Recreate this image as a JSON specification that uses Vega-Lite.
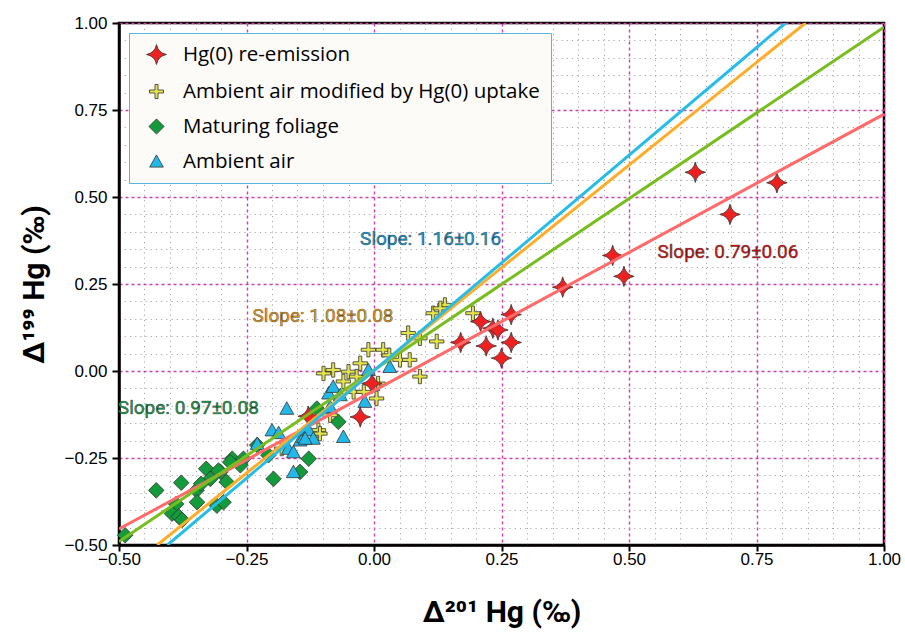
{
  "$schema": "https://vega.github.io/schema/vega-lite/v6.json",
  "width": 765,
  "height": 522,
  "autosize": {"type": "none"},
  "padding": {"left": 119, "top": 23, "right": 21, "bottom": 92},
  "background": "white",
  "config": {
    "view": {"stroke": "black", "strokeWidth": 2.5}
  },
  "datasets": {
    "pts": [
      {"series": "Maturing foliage", "x": -0.488, "y": -0.472},
      {"series": "Maturing foliage", "x": -0.427, "y": -0.343},
      {"series": "Maturing foliage", "x": -0.378, "y": -0.321},
      {"series": "Maturing foliage", "x": -0.388, "y": -0.382},
      {"series": "Maturing foliage", "x": -0.396, "y": -0.41},
      {"series": "Maturing foliage", "x": -0.383, "y": -0.418},
      {"series": "Maturing foliage", "x": -0.376, "y": -0.428},
      {"series": "Maturing foliage", "x": -0.329, "y": -0.281},
      {"series": "Maturing foliage", "x": -0.348, "y": -0.343},
      {"series": "Maturing foliage", "x": -0.347, "y": -0.377},
      {"series": "Maturing foliage", "x": -0.321, "y": -0.31},
      {"series": "Maturing foliage", "x": -0.301, "y": -0.29},
      {"series": "Maturing foliage", "x": -0.289, "y": -0.319},
      {"series": "Maturing foliage", "x": -0.308, "y": -0.387},
      {"series": "Maturing foliage", "x": -0.295, "y": -0.377},
      {"series": "Maturing foliage", "x": -0.278, "y": -0.252},
      {"series": "Maturing foliage", "x": -0.256, "y": -0.252},
      {"series": "Maturing foliage", "x": -0.339, "y": -0.324},
      {"series": "Maturing foliage", "x": -0.262, "y": -0.271},
      {"series": "Maturing foliage", "x": -0.197, "y": -0.31},
      {"series": "Maturing foliage", "x": -0.145, "y": -0.29},
      {"series": "Maturing foliage", "x": -0.128, "y": -0.252},
      {"series": "Maturing foliage", "x": -0.229, "y": -0.213},
      {"series": "Maturing foliage", "x": -0.207, "y": -0.242},
      {"series": "Maturing foliage", "x": -0.112, "y": -0.108},
      {"series": "Maturing foliage", "x": -0.07, "y": -0.146},
      {"series": "Maturing foliage", "x": -0.282, "y": -0.262},
      {"series": "Maturing foliage", "x": -0.305, "y": -0.286},
      {"series": "Ambient air modified by Hg(0) uptake", "x": 0.139, "y": 0.19},
      {"series": "Ambient air modified by Hg(0) uptake", "x": 0.116, "y": 0.166},
      {"series": "Ambient air modified by Hg(0) uptake", "x": 0.194, "y": 0.166},
      {"series": "Ambient air modified by Hg(0) uptake", "x": 0.067, "y": 0.109},
      {"series": "Ambient air modified by Hg(0) uptake", "x": 0.09, "y": 0.094},
      {"series": "Ambient air modified by Hg(0) uptake", "x": 0.123, "y": 0.085},
      {"series": "Ambient air modified by Hg(0) uptake", "x": -0.011, "y": 0.061},
      {"series": "Ambient air modified by Hg(0) uptake", "x": 0.018, "y": 0.061},
      {"series": "Ambient air modified by Hg(0) uptake", "x": 0.051, "y": 0.032},
      {"series": "Ambient air modified by Hg(0) uptake", "x": 0.07, "y": 0.032},
      {"series": "Ambient air modified by Hg(0) uptake", "x": 0.09, "y": -0.016},
      {"series": "Ambient air modified by Hg(0) uptake", "x": -0.027, "y": 0.022},
      {"series": "Ambient air modified by Hg(0) uptake", "x": -0.08, "y": 0.003},
      {"series": "Ambient air modified by Hg(0) uptake", "x": -0.099, "y": -0.007},
      {"series": "Ambient air modified by Hg(0) uptake", "x": -0.05, "y": -0.002},
      {"series": "Ambient air modified by Hg(0) uptake", "x": -0.034, "y": -0.016},
      {"series": "Ambient air modified by Hg(0) uptake", "x": -0.04, "y": -0.06},
      {"series": "Ambient air modified by Hg(0) uptake", "x": 0.008, "y": -0.036},
      {"series": "Ambient air modified by Hg(0) uptake", "x": 0.005, "y": -0.079},
      {"series": "Ambient air modified by Hg(0) uptake", "x": -0.086, "y": -0.127},
      {"series": "Ambient air modified by Hg(0) uptake", "x": -0.109, "y": -0.17},
      {"series": "Ambient air modified by Hg(0) uptake", "x": -0.106, "y": -0.18},
      {"series": "Ambient air modified by Hg(0) uptake", "x": -0.181, "y": -0.223},
      {"series": "Ambient air modified by Hg(0) uptake", "x": 0.13, "y": 0.18},
      {"series": "Ambient air modified by Hg(0) uptake", "x": -0.06, "y": -0.03},
      {"series": "Ambient air modified by Hg(0) uptake", "x": 0.03, "y": 0.045},
      {"series": "Ambient air modified by Hg(0) uptake", "x": -0.02, "y": -0.06},
      {"series": "Ambient air", "x": -0.171, "y": -0.108},
      {"series": "Ambient air", "x": -0.2, "y": -0.17},
      {"series": "Ambient air", "x": -0.187, "y": -0.178},
      {"series": "Ambient air", "x": -0.229, "y": -0.209},
      {"series": "Ambient air", "x": -0.168, "y": -0.223},
      {"series": "Ambient air", "x": -0.158, "y": -0.233},
      {"series": "Ambient air", "x": -0.158, "y": -0.29},
      {"series": "Ambient air", "x": -0.145, "y": -0.199},
      {"series": "Ambient air", "x": -0.138, "y": -0.189},
      {"series": "Ambient air", "x": -0.128, "y": -0.17},
      {"series": "Ambient air", "x": -0.119, "y": -0.194},
      {"series": "Ambient air", "x": -0.089, "y": -0.064},
      {"series": "Ambient air", "x": -0.08, "y": -0.045},
      {"series": "Ambient air", "x": -0.086, "y": -0.103},
      {"series": "Ambient air", "x": -0.066, "y": -0.069},
      {"series": "Ambient air", "x": -0.06, "y": -0.189},
      {"series": "Ambient air", "x": -0.018, "y": -0.088},
      {"series": "Ambient air", "x": -0.011, "y": 0.003},
      {"series": "Ambient air", "x": 0.031, "y": 0.012},
      {"series": "Ambient air", "x": -0.135, "y": -0.194},
      {"series": "Hg(0) re-emission", "x": 0.63, "y": 0.571},
      {"series": "Hg(0) re-emission", "x": 0.79, "y": 0.541},
      {"series": "Hg(0) re-emission", "x": 0.698, "y": 0.45},
      {"series": "Hg(0) re-emission", "x": 0.468, "y": 0.332},
      {"series": "Hg(0) re-emission", "x": 0.49, "y": 0.272},
      {"series": "Hg(0) re-emission", "x": 0.37, "y": 0.241},
      {"series": "Hg(0) re-emission", "x": 0.269, "y": 0.162},
      {"series": "Hg(0) re-emission", "x": 0.209, "y": 0.142},
      {"series": "Hg(0) re-emission", "x": 0.233, "y": 0.123},
      {"series": "Hg(0) re-emission", "x": 0.243, "y": 0.118},
      {"series": "Hg(0) re-emission", "x": 0.17, "y": 0.082},
      {"series": "Hg(0) re-emission", "x": 0.22, "y": 0.072},
      {"series": "Hg(0) re-emission", "x": 0.269, "y": 0.082},
      {"series": "Hg(0) re-emission", "x": 0.25, "y": 0.037},
      {"series": "Hg(0) re-emission", "x": -0.027, "y": -0.132},
      {"series": "Hg(0) re-emission", "x": -0.004, "y": -0.036},
      {"series": "Hg(0) re-emission", "x": -0.129, "y": -0.13}
    ],
    "fits": [
      {"fit": "red", "x": -0.5, "y": -0.454},
      {"fit": "red", "x": 1.0, "y": 0.738},
      {"fit": "green", "x": -0.5, "y": -0.49},
      {"fit": "green", "x": 1.0, "y": 0.988},
      {"fit": "orange", "x": -0.425, "y": -0.5},
      {"fit": "orange", "x": 0.846, "y": 1.0},
      {"fit": "cyan", "x": -0.405, "y": -0.5},
      {"fit": "cyan", "x": 0.807, "y": 1.0}
    ],
    "labels": [
      {"fit": "cyan", "x": 0.111, "y": 0.378, "text": "Slope: 1.16±0.16"},
      {"fit": "red", "x": 0.694, "y": 0.343, "text": "Slope: 0.79±0.06"},
      {"fit": "orange", "x": -0.1, "y": 0.159, "text": "Slope: 1.08±0.08"},
      {"fit": "green", "x": -0.364, "y": -0.107, "text": "Slope: 0.97±0.08"}
    ]
  },
  "encoding": {
    "x": {
      "field": "x",
      "type": "quantitative",
      "scale": {"domain": [-0.5, 1.0], "nice": false, "zero": false},
      "axis": {
        "values": [-0.5,-0.45,-0.4,-0.35,-0.3,-0.25,-0.2,-0.15,-0.1,-0.05,0,0.05,0.1,0.15,0.2,0.25,0.3,0.35,0.4,0.45,0.5,0.55,0.6,0.65,0.7,0.75,0.8,0.85,0.9,0.95,1],
        "grid": true,
        "gridColor": {"condition": {"test": "abs(datum.value*4-round(datum.value*4))<0.001", "value": "#d040a8"}, "value": "#a8a8a8"},
        "gridDash": {"condition": {"test": "abs(datum.value*4-round(datum.value*4))<0.001", "value": [3, 3]}, "value": [1.2, 4]},
        "gridWidth": {"condition": {"test": "abs(datum.value*4-round(datum.value*4))<0.001", "value": 1.4}, "value": 1},
        "tickOpacity": {"condition": {"test": "abs(datum.value*4-round(datum.value*4))<0.001", "value": 1}, "value": 0},
        "labelExpr": "abs(datum.value*4-round(datum.value*4))<0.001 ? replace(format(datum.value,'.2f'),'-','\u2212') : ''",
        "labelFlush": false,
        "labelOverlap": false,
        "labelFont": "Liberation Sans",
        "labelFontSize": 17,
        "labelColor": "black",
        "labelPadding": 0,
        "domainColor": "black",
        "domainWidth": 2.5,
        "tickColor": "black",
        "tickWidth": 2,
        "tickSize": 6,
        "title": "Δ²⁰¹ Hg (‰)",
        "titleFont": "Roboto",
        "titleFontSize": 30,
        "titleFontWeight": "bold",
        "titleColor": "black",
        "titlePadding": 30
      }
    },
    "y": {
      "field": "y",
      "type": "quantitative",
      "scale": {"domain": [-0.5, 1.0], "nice": false, "zero": false},
      "axis": {
        "values": [-0.5,-0.45,-0.4,-0.35,-0.3,-0.25,-0.2,-0.15,-0.1,-0.05,0,0.05,0.1,0.15,0.2,0.25,0.3,0.35,0.4,0.45,0.5,0.55,0.6,0.65,0.7,0.75,0.8,0.85,0.9,0.95,1],
        "grid": true,
        "gridColor": {"condition": {"test": "abs(datum.value*4-round(datum.value*4))<0.001", "value": "#d040a8"}, "value": "#a8a8a8"},
        "gridDash": {"condition": {"test": "abs(datum.value*4-round(datum.value*4))<0.001", "value": [3, 3]}, "value": [1.2, 4]},
        "gridWidth": {"condition": {"test": "abs(datum.value*4-round(datum.value*4))<0.001", "value": 1.4}, "value": 1},
        "tickOpacity": {"condition": {"test": "abs(datum.value*4-round(datum.value*4))<0.001", "value": 1}, "value": 0},
        "labelExpr": "abs(datum.value*4-round(datum.value*4))<0.001 ? replace(format(datum.value,'.2f'),'-','\u2212') : ''",
        "labelFlush": false,
        "labelOverlap": false,
        "labelFont": "Liberation Sans",
        "labelFontSize": 17,
        "labelColor": "black",
        "labelPadding": 5,
        "domainColor": "black",
        "domainWidth": 2.5,
        "tickColor": "black",
        "tickWidth": 2,
        "tickSize": 7,
        "title": "Δ¹⁹⁹ Hg (‰)",
        "titleFont": "Roboto",
        "titleFontSize": 30,
        "titleFontWeight": "bold",
        "titleColor": "black",
        "titlePadding": 14
      }
    }
  },
  "layer": [
    {
      "data": {"name": "pts"},
      "mark": {"type": "point", "filled": true, "stroke": "#333333", "strokeWidth": 0.8, "opacity": 1, "size": 420},
      "encoding": {
        "fill": {
          "field": "series",
          "type": "nominal",
          "scale": {
            "domain": ["Hg(0) re-emission", "Ambient air modified by Hg(0) uptake", "Maturing foliage", "Ambient air"],
            "range": ["#ee2020", "#e4e44a", "#139a3a", "#22b8ea"]
          },
          "legend": {
            "title": null,
            "orient": "top-left",
            "offset": 10,
            "padding": 11,
            "fillColor": "#fdfbf8",
            "strokeColor": "#5ab4e0",
            "labelFont": "Open Sans",
            "labelFontSize": 20.5,
            "labelColor": "black",
            "symbolSize": 400,
            "symbolStrokeColor": "#333333",
            "symbolStrokeWidth": 0.8,
            "rowPadding": 14,
            "labelOffset": 16,
            "symbolOffset": 6,
            "labelLimit": 500,
            "symbolLimit": 10,
            "encode": {"legend": {"update": {"strokeWidth": {"value": 2.5}}}}
          }
        },
        "shape": {
          "field": "series",
          "type": "nominal",
          "scale": {
            "domain": ["Hg(0) re-emission", "Ambient air modified by Hg(0) uptake", "Maturing foliage", "Ambient air"],
            "range": [
              "M0,-1Q0.16,-0.16,1,0Q0.16,0.16,0,1Q-0.16,0.16,-1,0Q-0.16,-0.16,0,-1Z",
              "M-0.15,-0.7L0.15,-0.7L0.15,-0.15L0.7,-0.15L0.7,0.15L0.15,0.15L0.15,0.7L-0.15,0.7L-0.15,0.15L-0.7,0.15L-0.7,-0.15L-0.15,-0.15Z",
              "M0,-0.76L0.76,0L0,0.76L-0.76,0Z",
              "M0,-0.66L0.68,0.56L-0.68,0.56Z"
            ]
          },
          "legend": {"title": null}
        }
      }
    },
    {
      "data": {"name": "fits"},
      "mark": {"type": "line", "strokeWidth": 3, "clip": true},
      "encoding": {
        "detail": {"field": "fit", "type": "nominal"},
        "stroke": {
          "field": "fit",
          "type": "nominal",
          "scale": {"domain": ["red", "green", "orange", "cyan"], "range": ["#ff6a6a", "#78bd1e", "#ffad28", "#25bde8"]},
          "legend": null
        }
      }
    },
    {
      "data": {"name": "labels"},
      "mark": {
        "type": "text",
        "font": "Roboto",
        "fontSize": 19,
        "stroke": "rgba(0,0,0,0.5)",
        "strokeWidth": 0.7,
        "align": "center",
        "baseline": "middle"
      },
      "encoding": {
        "text": {"field": "text"},
        "color": {
          "field": "fit",
          "type": "nominal",
          "scale": {"domain": ["red", "green", "orange", "cyan"], "range": ["#dd1a1a", "#1fa050", "#f2a522", "#1aa2da"]},
          "legend": null
        }
      }
    }
  ]
}
